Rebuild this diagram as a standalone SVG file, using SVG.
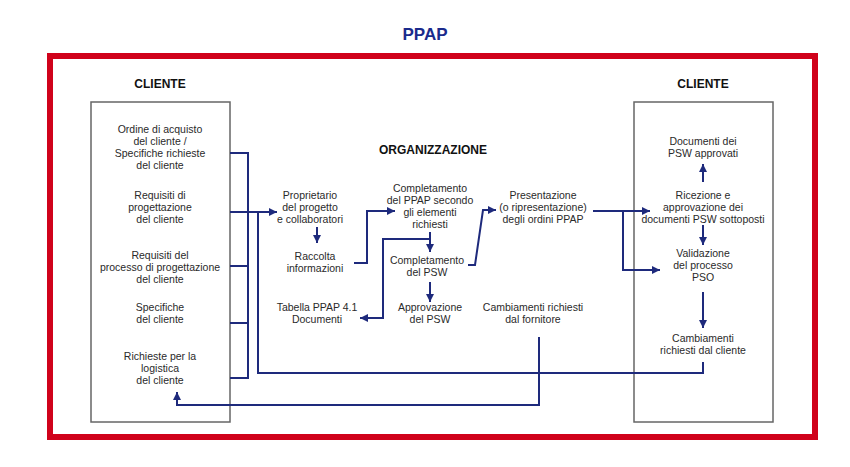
<svg xmlns="http://www.w3.org/2000/svg" width="850" height="467" viewBox="0 0 850 467">
<defs>
<style>
.t{font-family:"Liberation Sans",Arial,sans-serif;font-size:10.5px;fill:#2a2a2a;text-anchor:middle}
.h{font-family:"Liberation Sans",Arial,sans-serif;font-size:12px;font-weight:bold;fill:#111;text-anchor:middle}
.c{fill:none;stroke:#1e2a7c;stroke-width:2}
.box{fill:#fff;stroke:#666;stroke-width:1.5}
</style>
<marker id="a" markerUnits="userSpaceOnUse" markerWidth="9" markerHeight="9" refX="8" refY="4" orient="auto">
<path d="M0,0 L8,4 L0,8 z" fill="#1e2a7c"/>
</marker>
</defs>
<rect width="850" height="467" fill="#fff"/>
<text x="425" y="40" font-family="'Liberation Sans',Arial,sans-serif" font-size="17" font-weight="bold" fill="#1a2a8c" text-anchor="middle">PPAP</text>
<rect x="50" y="56" width="765" height="381" fill="none" stroke="#d0021b" stroke-width="6"/>

<g id="cliente-sx">
<text class="h" x="160" y="88">CLIENTE</text>
<rect class="box" x="91" y="102" width="139" height="320"/>
<text class="t" x="160" y="133">Ordine di acquisto</text>
<text class="t" x="160" y="145">del cliente /</text>
<text class="t" x="160" y="157">Specifiche richieste</text>
<text class="t" x="160" y="169">del cliente</text>
<text class="t" x="160" y="199">Requisiti di</text>
<text class="t" x="160" y="211">progettazione</text>
<text class="t" x="160" y="223">del cliente</text>
<text class="t" x="160" y="259">Requisiti del</text>
<text class="t" x="160" y="271">processo di progettazione</text>
<text class="t" x="160" y="283">del cliente</text>
<text class="t" x="160" y="311">Specifiche</text>
<text class="t" x="160" y="323">del cliente</text>
<text class="t" x="160" y="360">Richieste per la</text>
<text class="t" x="160" y="372">logistica</text>
<text class="t" x="160" y="384">del cliente</text>
</g>

<g id="cliente-dx">
<text class="h" x="703" y="88">CLIENTE</text>
<rect class="box" x="634" y="102" width="139" height="320"/>
<text class="t" x="703" y="145">Documenti dei</text>
<text class="t" x="703" y="157">PSW approvati</text>
<text class="t" x="703" y="199">Ricezione e</text>
<text class="t" x="703" y="211">approvazione dei</text>
<text class="t" x="703" y="223">documenti PSW sottoposti</text>
<text class="t" x="703" y="257">Validazione</text>
<text class="t" x="703" y="269">del processo</text>
<text class="t" x="703" y="281">PSO</text>
<text class="t" x="703" y="342">Cambiamenti</text>
<text class="t" x="703" y="354">richiesti dal cliente</text>
</g>

<g id="organizzazione">
<text class="h" x="433" y="154">ORGANIZZAZIONE</text>
</g>
<g id="proprietario">
<text class="t" x="310" y="199">Proprietario</text>
<text class="t" x="310" y="211">del progetto</text>
<text class="t" x="310" y="223">e collaboratori</text>
</g>
<g id="raccolta">
<text class="t" x="315" y="260">Raccolta</text>
<text class="t" x="315" y="272">informazioni</text>
</g>
<g id="completamento-ppap">
<text class="t" x="430" y="192">Completamento</text>
<text class="t" x="430" y="204">del PPAP secondo</text>
<text class="t" x="430" y="216">gli elementi</text>
<text class="t" x="430" y="228">richiesti</text>
</g>
<g id="completamento-psw">
<text class="t" x="427" y="264">Completamento</text>
<text class="t" x="427" y="276">del PSW</text>
</g>
<g id="approvazione">
<text class="t" x="430" y="311">Approvazione</text>
<text class="t" x="430" y="323">del PSW</text>
</g>
<g id="tabella">
<text class="t" x="317" y="311">Tabella PPAP 4.1</text>
<text class="t" x="317" y="323">Documenti</text>
</g>
<g id="cambiamenti-fornitore">
<text class="t" x="533" y="311">Cambiamenti richiesti</text>
<text class="t" x="533" y="323">dal fornitore</text>
</g>
<g id="presentazione">
<text class="t" x="543" y="199">Presentazione</text>
<text class="t" x="543" y="211">(o ripresentazione)</text>
<text class="t" x="543" y="223">degli ordini PPAP</text>
</g>

<g id="connectors">
<path class="c" d="M230,153 H248 V378 H230 M230,266 H248 M230,323 H248"/>
<path class="c" d="M230,212 H277" marker-end="url(#a)"/>
<path class="c" d="M258,212 V373 H703 V362"/>
<path class="c" d="M539,337 V405 H177 V392" marker-end="url(#a)"/>
<path class="c" d="M317,227 V243" marker-end="url(#a)"/>
<path class="c" d="M354,263 H367 V211 H395" marker-end="url(#a)"/>
<path class="c" d="M430,232 V252" marker-end="url(#a)"/>
<path class="c" d="M430,239 H383 V318 H360" marker-end="url(#a)"/>
<path class="c" d="M430,282 V302" marker-end="url(#a)"/>
<path class="c" d="M468,265 H475 L483,210 H496" marker-end="url(#a)"/>
<path class="c" d="M593,211 H650" marker-end="url(#a)"/>
<path class="c" d="M623,211 V270 H660" marker-end="url(#a)"/>
<path class="c" d="M703,182 V164" marker-end="url(#a)"/>
<path class="c" d="M703,225 V245" marker-end="url(#a)"/>
<path class="c" d="M703,292 V328" marker-end="url(#a)"/>
</g>
</svg>
